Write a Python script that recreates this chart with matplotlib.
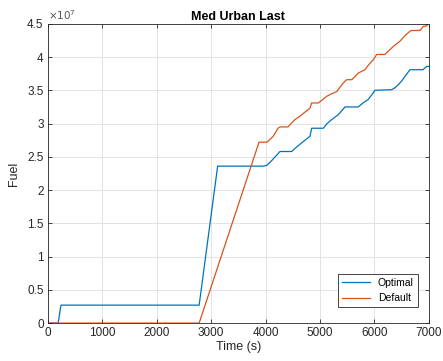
import numpy as np
import matplotlib.pyplot as plt

# time (s) and cumulative fuel for the two controllers
t_opt = [0, 190, 240, 2780, 3120, 3950, 4020, 4120, 4265, 4480, 4560, 4663, 4740, 4816, 4847,
         5061, 5130, 5215, 5280, 5331, 5460, 5704, 5790, 5882, 5950, 6011, 6318, 6380,
         6434, 6500, 6562, 6654, 6893, 6961, 7000]
fuel_opt = [0, 0, 0.27e7, 0.27e7, 2.36e7, 2.36e7, 2.37e7, 2.45e7, 2.58e7, 2.58e7, 2.64e7, 2.71e7,
            2.76e7, 2.81e7, 2.93e7, 2.93e7, 3.00e7, 3.06e7, 3.10e7, 3.13e7, 3.25e7, 3.25e7,
            3.31e7, 3.36e7, 3.43e7, 3.50e7, 3.51e7, 3.54e7, 3.58e7, 3.64e7, 3.71e7, 3.81e7,
            3.81e7, 3.86e7, 3.86e7]

t_def = [0, 2780, 3880, 4020, 4080, 4140, 4230, 4265, 4412, 4480, 4540, 4632, 4720, 4816, 4847,
         4969, 5050, 5123, 5220, 5307, 5370, 5428, 5490, 5583, 5650, 5704, 5827, 5900, 5980,
         6042, 6195, 6270, 6347, 6471, 6560, 6654, 6685, 6838, 6899, 6960, 7000]
fuel_def = [0, 0, 2.72e7, 2.72e7, 2.76e7, 2.81e7, 2.93e7, 2.95e7, 2.95e7, 3.01e7, 3.06e7, 3.11e7,
            3.17e7, 3.23e7, 3.31e7, 3.31e7, 3.36e7, 3.41e7, 3.45e7, 3.48e7, 3.55e7, 3.61e7,
            3.66e7, 3.66e7, 3.71e7, 3.76e7, 3.81e7, 3.89e7, 3.96e7, 4.04e7, 4.04e7, 4.10e7,
            4.16e7, 4.24e7, 4.32e7, 4.39e7, 4.40e7, 4.40e7, 4.46e7, 4.47e7, 4.52e7]

x_ticks = [0, 1000, 2000, 3000, 4000, 5000, 6000, 7000]
y_ticks = [0, 0.5e7, 1e7, 1.5e7, 2e7, 2.5e7, 3e7, 3.5e7, 4e7, 4.5e7]
y_tick_labels = ['0', '0.5', '1', '1.5', '2', '2.5', '3', '3.5', '4', '4.5']

plt.rcParams['font.family'] = ['Liberation Sans', 'DejaVu Sans']
plt.rcParams['font.size'] = 8.5
dark = '#262626'

fig = plt.figure(figsize=(4.43, 3.61), dpi=100)
ax = fig.add_axes([0.108, 0.105, 0.86, 0.829])

ax.plot(t_opt, fuel_opt, color='#0072BD', lw=0.9, label='Optimal')
ax.plot(t_def, fuel_def, color='#D95319', lw=0.9, label='Default')

ax.set_xlim(0, 7000)
ax.set_ylim(0, 4.5e7)
ax.set_xticks(x_ticks)
ax.set_yticks(y_ticks)
ax.set_yticklabels(y_tick_labels)
ax.text(0, 1.006, r'$\times10^{7}$', transform=ax.transAxes, fontsize=7.5,
        color='#555555', ha='left', va='bottom')

ax.grid(True, color='#dedede', lw=0.6)
ax.set_axisbelow(True)
ax.tick_params(direction='in', top=True, right=True, length=3, width=0.6,
               colors=dark, labelsize=8.5, pad=3)
for s in ax.spines.values():
    s.set_color(dark)
    s.set_linewidth(0.6)

ax.set_title('Med Urban Last', fontsize=9, fontweight='bold', pad=3)
ax.set_xlabel('Time (s)', fontsize=9, color=dark, labelpad=1)
ax.set_ylabel('Fuel', fontsize=9, color=dark, labelpad=5)

leg = ax.legend(loc='lower right', fontsize=7.5, fancybox=False, framealpha=1,
                edgecolor=dark, handlelength=2.6, borderpad=0.4,
                bbox_to_anchor=(0.985, 0.035))
leg.get_frame().set_linewidth(0.6)

fig.savefig('out.png', dpi=100)
